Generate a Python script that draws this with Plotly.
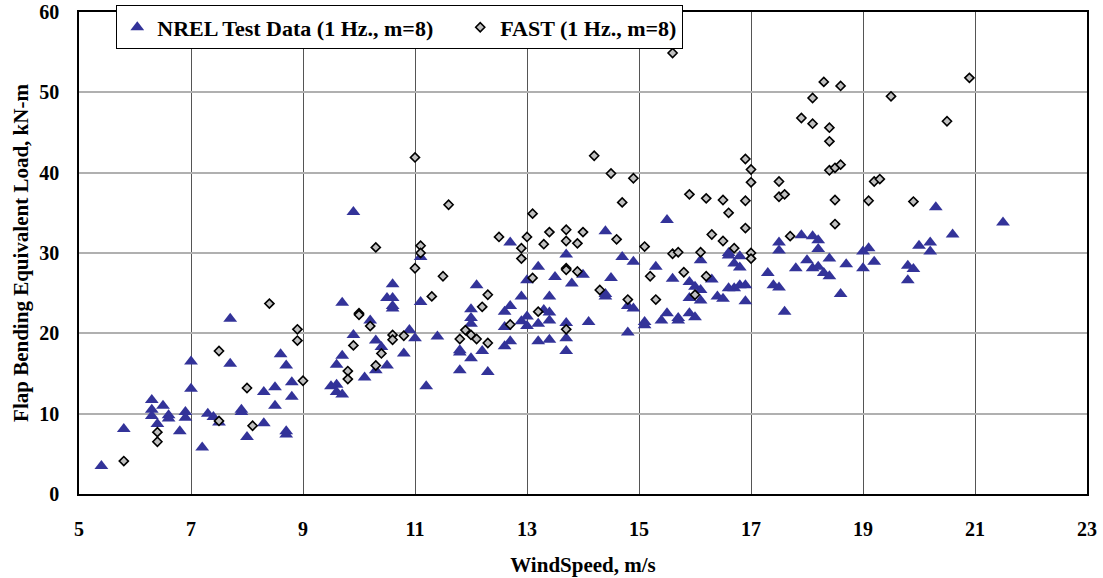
import plotly.graph_objects as go

# NREL measured flap bending equivalent loads (1 Hz, m=8)
nrel_wind = [5.4, 5.8, 6.3, 6.3, 6.3, 6.4, 6.5, 6.6, 6.6, 6.8, 6.9, 6.9, 7.0, 7.0, 7.2, 7.3, 7.4, 7.5,
             7.7, 7.7, 7.9, 7.9, 8.0, 8.3, 8.3, 8.5, 8.5, 8.6, 8.7, 8.7, 8.7, 8.8, 8.8,
             9.5, 9.6, 9.6, 9.6, 9.7, 9.7, 9.7, 9.9, 9.9,
             10.1, 10.2, 10.3, 10.3, 10.4, 10.5, 10.5, 10.6, 10.6, 10.6, 10.6, 10.8, 10.9, 11.0,
             11.1, 11.1, 11.2, 11.4, 11.8, 11.8, 11.8, 12.0, 12.0, 12.0, 12.0, 12.1, 12.2, 12.3,
             12.6, 12.6, 12.6, 12.7, 12.7, 12.7, 12.9, 12.9, 13.0, 13.0, 13.0, 13.2, 13.2, 13.2,
             13.3, 13.4, 13.4, 13.4, 13.4, 13.5, 13.7, 13.7, 13.7, 13.7, 13.8, 14.0, 14.1,
             14.4, 14.5, 14.7, 14.9, 14.4, 14.4, 14.8, 14.9, 14.8, 15.1, 15.1, 15.3, 15.4, 15.5,
             15.5, 15.6, 15.7, 15.7, 15.9, 15.9, 15.9, 16.0, 16.0, 16.1, 16.1, 16.1, 16.3, 16.4,
             16.5, 16.6, 16.6, 16.7, 16.8, 16.8, 16.6, 16.7, 16.8, 16.9, 16.9, 17.3, 17.4, 17.5,
             17.5, 17.5, 17.6, 17.8, 17.9, 18.0, 18.1, 18.1, 18.2, 18.2, 18.2, 18.3, 18.4, 18.4,
             18.6, 18.7, 19.0, 19.1, 19.2, 19.0, 19.8, 19.9, 19.8, 20.0, 20.2, 20.2, 20.3, 20.6,
             21.5]
nrel_load = [3.5, 8.1, 11.7, 10.5, 9.7, 8.7, 11.0, 9.8, 9.4, 7.8, 10.2, 9.5, 16.5, 13.1, 5.8, 10.0, 9.6, 8.9,
             21.8, 16.2, 10.5, 10.2, 7.1, 12.7, 8.8, 13.3, 11.0, 17.4, 16.0, 7.8, 7.4, 13.9, 12.1,
             13.4, 13.6, 12.7, 16.1, 12.4, 17.2, 23.8, 19.8, 35.1,
             14.5, 21.6, 19.1, 15.4, 18.3, 16.0, 24.4, 26.1, 24.4, 23.4, 23.1, 17.5, 20.4, 19.4,
             23.9, 29.5, 13.4, 19.6, 17.9, 17.6, 15.4, 23.0, 21.9, 21.2, 16.9, 26.0, 17.8, 15.2,
             22.7, 20.8, 18.4, 23.4, 19.0, 31.3, 24.6, 21.5, 22.1, 20.9, 26.6, 28.3, 21.2, 19.0,
             22.9, 24.6, 22.6, 21.6, 19.2, 27.0, 29.8, 21.3, 19.4, 17.8, 26.2, 27.3, 21.4,
             32.7, 26.9, 29.5, 28.9, 24.6, 24.9, 23.4, 23.1, 20.1, 21.4, 21.0, 28.3, 21.6, 22.5,
             34.1, 26.8, 21.9, 21.6, 22.5, 24.4, 26.4, 25.8, 22.0, 25.4, 24.1, 29.1, 26.7, 24.6,
             24.3, 30.0, 29.7, 28.7, 29.6, 28.2, 25.6, 25.6, 26.0, 26.0, 24.0, 27.5, 26.0, 25.7,
             31.3, 30.3, 22.7, 28.1, 32.2, 29.1, 32.1, 28.1, 31.6, 30.5, 28.3, 27.5, 29.3, 27.1,
             24.9, 28.6, 30.2, 30.6, 28.9, 28.1, 28.4, 28.0, 26.6, 30.9, 31.3, 30.2, 35.7, 32.3,
             33.8]

# FAST simulated flap bending equivalent loads (1 Hz, m=8)
fast_wind = [5.8, 6.4, 6.4, 7.5, 7.5, 8.0, 8.1, 8.4, 8.9, 8.9, 9.0, 9.8, 9.8, 9.9, 10.0, 10.0,
             10.2, 10.3, 10.3, 10.4, 10.6, 10.6, 10.8, 11.0, 11.0, 11.1, 11.1, 11.3, 11.5, 11.6,
             11.8, 11.9, 12.0, 12.1, 12.2, 12.3, 12.3, 12.5, 12.7, 12.9, 12.9, 13.0, 13.1, 13.1,
             13.2, 13.3, 13.4, 13.7, 13.7, 13.7, 13.7, 13.7, 13.9, 13.9, 14.0, 14.2, 14.3,
             14.5, 14.6, 14.7, 14.8, 14.9, 15.1, 15.2, 15.3, 15.6, 15.6, 15.7, 15.8, 15.9, 16.0,
             16.1, 16.2, 16.2, 16.3, 16.5, 16.5, 16.6, 16.7, 16.9, 16.9, 16.9, 17.0, 17.0, 17.0,
             17.0, 17.5, 17.5, 17.6, 17.7, 17.9, 18.1, 18.1, 18.3, 18.4, 18.4, 18.4, 18.5, 18.6,
             18.5, 18.5, 18.6, 19.1, 19.2, 19.3, 19.5, 19.9, 20.5, 20.9]
fast_load = [4.1, 7.7, 6.5, 9.1, 17.8, 13.2, 8.5, 23.7, 20.5, 19.1, 14.1, 15.3, 14.3, 18.5, 22.5, 22.3,
             20.9, 30.7, 16.0, 17.5, 19.8, 19.2, 19.7, 28.1, 41.9, 30.9, 30.0, 24.6, 27.1, 36.0,
             19.3, 20.4, 19.8, 19.3, 23.3, 24.8, 18.8, 32.0, 21.1, 30.6, 29.3, 32.0, 34.9, 26.9,
             22.7, 31.1, 32.6, 32.9, 31.5, 28.1, 27.9, 20.5, 31.2, 27.7, 32.6, 42.1, 25.4,
             39.9, 31.7, 36.3, 24.2, 39.3, 30.8, 27.1, 24.2, 29.9, 54.9, 30.1, 27.6, 37.3, 24.8,
             30.1, 36.8, 27.1, 32.3, 36.6, 31.5, 35.0, 30.6, 33.1, 36.5, 41.7, 40.4, 38.8, 30.0,
             29.3, 38.9, 37.0, 37.3, 32.1, 46.8, 49.3, 46.1, 51.3, 45.6, 43.9, 40.3, 40.6, 41.0,
             36.6, 33.6, 50.8, 36.5, 38.9, 39.2, 49.5, 36.4, 46.4, 51.8]

x_ticks = [5, 7, 9, 11, 13, 15, 17, 19, 21, 23]
y_ticks = [0, 10, 20, 30, 40, 50, 60]

serif = "Liberation Serif, Times New Roman, serif"
gap = "\u00a0" * 4  # extra room between the two legend entries

fig = go.Figure()
fig.add_trace(go.Scatter(
    x=nrel_wind, y=nrel_load, mode="markers",
    name="NREL Test Data (1 Hz., m=8)" + gap,
    marker=dict(symbol="triangle-up", size=12, color="#333399", line=dict(width=0)),
))
fig.add_trace(go.Scatter(
    x=fast_wind, y=fast_load, mode="markers",
    name="FAST (1 Hz., m=8)",
    marker=dict(symbol="diamond", size=7, color="#c0c0c0", line=dict(width=1.6, color="black")),
))

fig.update_layout(
    width=1103, height=578,
    margin=dict(l=79, r=16, t=12, b=84, autoexpand=False),
    paper_bgcolor="white", plot_bgcolor="white",
    font=dict(family=serif, size=20, color="black", weight="bold"),
    showlegend=True,
    legend=dict(
        orientation="h", x=0.037, y=1.0135, xanchor="left", yanchor="top",
        bgcolor="white", bordercolor="black", borderwidth=1,
        font=dict(family=serif, size=22, color="black", weight="bold"),
        itemwidth=30,
    ),
    xaxis=dict(
        range=[5, 23], tickvals=x_ticks, ticktext=[str(v) for v in x_ticks],
        showgrid=True, gridcolor="#555555", gridwidth=1,
        showline=True, linecolor="black", linewidth=1.5, mirror=True,
        ticks="outside", ticklen=16, tickcolor="rgba(0,0,0,0)",
        tickfont=dict(family=serif, size=20, weight="bold"),
        title=dict(text="WindSpeed, m/s", font=dict(family=serif, size=21, weight="bold"), standoff=19),
        zeroline=False, automargin=False,
    ),
    yaxis=dict(
        range=[0, 60], tickvals=y_ticks, ticktext=[str(v) for v in y_ticks],
        showgrid=True, gridcolor="#b0b0b0", gridwidth=1.5,
        showline=True, linecolor="black", linewidth=1.5, mirror=True,
        ticks="outside", ticklen=14, tickcolor="rgba(0,0,0,0)",
        tickfont=dict(family=serif, size=20, weight="bold"),
        title=dict(text="Flap Bending Equivalent Load, kN-m", font=dict(family=serif, size=21, weight="bold"), standoff=5),
        zeroline=False, automargin=False,
    ),
)

fig.write_html("out.html")
